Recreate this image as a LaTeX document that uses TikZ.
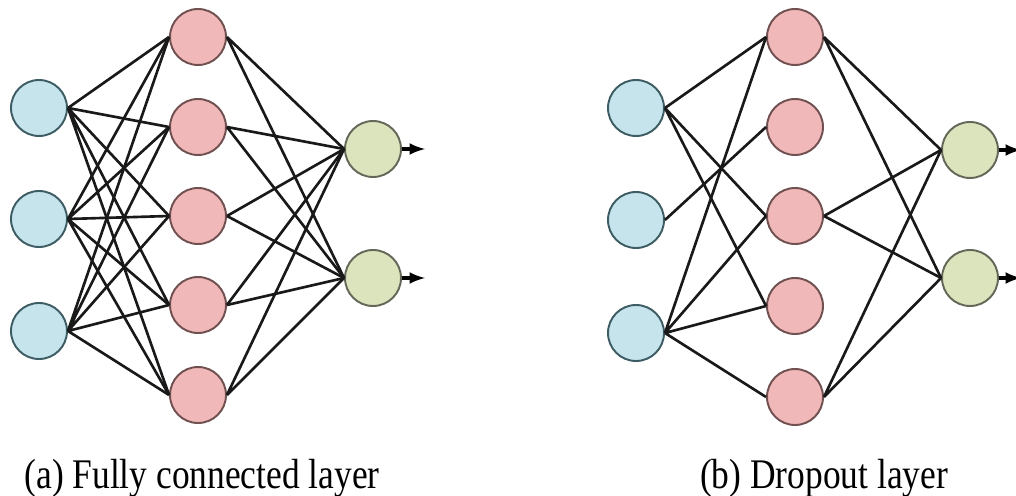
\documentclass[tikz,border=0pt]{standalone}
\usepackage{fontspec}
\setmainfont{Liberation Serif}
\usepackage{tikz}
\usetikzlibrary{arrows}
\usepackage{color}
\definecolor{InFill}{RGB}{198,228,236}
\definecolor{InDraw}{RGB}{62,92,100}
\definecolor{HidFill}{RGB}{240,184,184}
\definecolor{HidDraw}{RGB}{112,80,80}
\definecolor{OutFill}{RGB}{220,228,190}
\definecolor{OutDraw}{RGB}{100,104,88}

\begin{document}
\begin{tikzpicture}[x=0.02cm, y=-0.02cm]
    \path[use as bounding box] (0, 0) rectangle (1016, 496);

    \tikzset{ inpnode/.style ={draw=InDraw,  fill=InFill,  circle, line width=1.1pt, minimum size=1.12cm, inner sep=0pt} }
    \tikzset{ hidnode/.style ={draw=HidDraw, fill=HidFill, circle, line width=1.1pt, minimum size=1.12cm, inner sep=0pt} }
    \tikzset{ outnode/.style ={draw=OutDraw, fill=OutFill, circle, line width=1.1pt, minimum size=1.12cm, inner sep=0pt} }
    \tikzset{ edge/.style ={line width=1.5pt, black!90} }
    \tikzset{ outarrow/.style ={line width=2pt, black, ->, >=latex} }
    \tikzset{ caption/.style ={font=\fontsize{24}{28}\selectfont, inner sep=0pt, anchor=base} }

    % (a) fully connected
    \node[inpnode] (ai1) at ( 39, 108) {};
    \node[inpnode] (ai2) at ( 39, 219) {};
    \node[inpnode] (ai3) at ( 39, 331) {};
    \node[hidnode] (ah1) at (198,  37) {};
    \node[hidnode] (ah2) at (198, 127) {};
    \node[hidnode] (ah3) at (198, 216) {};
    \node[hidnode] (ah4) at (198, 305) {};
    \node[hidnode] (ah5) at (198, 395) {};
    \node[outnode] (ao1) at (373, 149) {};
    \node[outnode] (ao2) at (373, 278) {};
    \coordinate (ay1) at (425, 149);
    \coordinate (ay2) at (425, 278);

    \draw[edge] (ai1.east) -- (ah1.west) (ai1.east) -- (ah2.west) (ai1.east) -- (ah3.west) (ai1.east) -- (ah4.west) (ai1.east) -- (ah5.west);
    \draw[edge] (ai2.east) -- (ah1.west) (ai2.east) -- (ah2.west) (ai2.east) -- (ah3.west) (ai2.east) -- (ah4.west) (ai2.east) -- (ah5.west);
    \draw[edge] (ai3.east) -- (ah1.west) (ai3.east) -- (ah2.west) (ai3.east) -- (ah3.west) (ai3.east) -- (ah4.west) (ai3.east) -- (ah5.west);
    \draw[edge] (ah1.east) -- (ao1.west) (ah1.east) -- (ao2.west);
    \draw[edge] (ah2.east) -- (ao1.west) (ah2.east) -- (ao2.west);
    \draw[edge] (ah3.east) -- (ao1.west) (ah3.east) -- (ao2.west);
    \draw[edge] (ah4.east) -- (ao1.west) (ah4.east) -- (ao2.west);
    \draw[edge] (ah5.east) -- (ao1.west) (ah5.east) -- (ao2.west);
    \draw[outarrow] (ao1) -- (ay1);
    \draw[outarrow] (ao2) -- (ay2);

    % (b) dropout
    \node[inpnode] (bi1) at (636, 108) {};
    \node[inpnode] (bi2) at (636, 220) {};
    \node[inpnode] (bi3) at (636, 333) {};
    \node[hidnode] (bh1) at (795,  37) {};
    \node[hidnode] (bh2) at (795, 127) {};
    \node[hidnode] (bh3) at (795, 216) {};
    \node[hidnode] (bh4) at (795, 306) {};
    \node[hidnode] (bh5) at (795, 397) {};
    \node[outnode] (bo1) at (970, 150) {};
    \node[outnode] (bo2) at (970, 278) {};
    \coordinate (by1) at (1021, 150);
    \coordinate (by2) at (1021, 278);

    \draw[edge] (bi1.east) -- (bh1.west) (bi1.east) -- (bh3.west) (bi1.east) -- (bh4.west);
    \draw[edge] (bi2.east) -- (bh2.west);
    \draw[edge] (bi3.east) -- (bh1.west) (bi3.east) -- (bh3.west) (bi3.east) -- (bh4.west) (bi3.east) -- (bh5.west);
    \draw[edge] (bh1.east) -- (bo1.west) (bh1.east) -- (bo2.west);
    \draw[edge] (bh3.east) -- (bo1.west) (bh3.east) -- (bo2.west);
    \draw[edge] (bh5.east) -- (bo1.west) (bh5.east) -- (bo2.west);
    \draw[outarrow] (bo1) -- (by1);
    \draw[outarrow] (bo2) -- (by2);

    \node[caption] (capa) at (202, 488) {\scalebox{0.84}[1]{(a) Fully connected layer}};
    \node[caption] (capb) at (824, 488) {\scalebox{0.84}[1]{(b) Dropout layer}};
\end{tikzpicture}
\end{document}
